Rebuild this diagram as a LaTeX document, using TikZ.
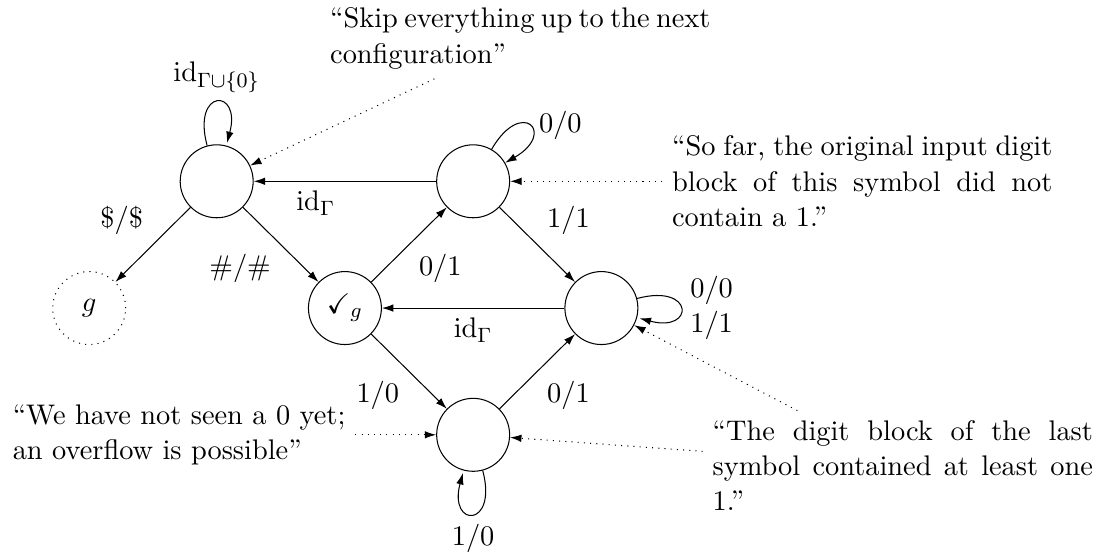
\documentclass[tikz,border=0pt,11pt]{standalone}
\usepackage{amsmath,amssymb}
\usepackage{tikz}
\usetikzlibrary{arrows.meta}

\begin{document}
\begin{tikzpicture}[x=1cm,y=1cm,>={Latex[length=4.4pt,width=2.9pt]},
  st/.style={draw,circle,minimum size=0.99cm,inner sep=0pt},
  remark/.style={text width=5.16cm,align=justify}]
  \useasboundingbox (0,0) rectangle (14.98,-7.54);
  % Zustaende des Transducers (Raster 1.74cm)
  \node[st] (skip) at (2.94,-2.46) {};
  \node[st] (zero) at (6.42,-2.46) {};
  \node[st] (chk) at (4.68,-4.18) {$\checkmark_g$};
  \node[st] (one) at (8.16,-4.18) {};
  \node[st] (ovf) at (6.42,-5.90) {};
  \node[st,dotted] (g) at (1.21,-4.18) {$g$};

  \path[->] (skip) edge[loop above] node[above] {$\mathrm{id}_{\Gamma\cup\{0\}}$} (skip);
  \draw[->] (skip) -- node[above left] {$\$/\$$} (g);
  \draw[->] (skip) -- node[below left] {$\#/\#$} (chk);
  \draw[->] (zero) -- node[below,pos=0.66] {$\mathrm{id}_\Gamma$} (skip);
  \path[->] (zero) edge[loop,out=60,in=30,looseness=8] node[right] {$0/0$} (zero);
  \draw[->] (chk) -- node[below right] {$0/1$} (zero);
  \draw[->] (zero) -- node[above right] {$1/1$} (one);
  \draw[->] (one) -- node[below] {$\mathrm{id}_\Gamma$} (chk);
  \path[->] (one) edge[loop right] node[right,align=left] {$0/0$\\$1/1$} (one);
  \draw[->] (chk) -- node[below left] {$1/0$} (ovf);
  \draw[->] (ovf) -- node[below right] {$0/1$} (one);
  \path[->] (ovf) edge[loop below] node[below] {$1/0$} (ovf);

  % Kommentare
  \node[remark] (nskip) at (7.06,-0.52)
    {``Skip everything up to the next configuration''};
  \node[remark] (nzero) at (11.70,-2.46)
    {``So far, the original input digit block of this symbol did not contain a 1.''};
  \node[remark] (none) at (12.25,-6.32)
    {``The digit block of the last symbol contained at least one 1.''};
  \node[align=left] (novf) at (2.43,-5.90)
    {``We have not seen a 0 yet;\\an overflow is possible''};
  \draw[->,dotted] (nskip) -- (skip);
  \draw[->,dotted] (nzero) -- (zero);
  \draw[->,dotted] (none) -- (one);
  \draw[->,dotted] (none) -- (ovf);
  \draw[->,dotted] (novf) -- (ovf);
\end{tikzpicture}
\end{document}
